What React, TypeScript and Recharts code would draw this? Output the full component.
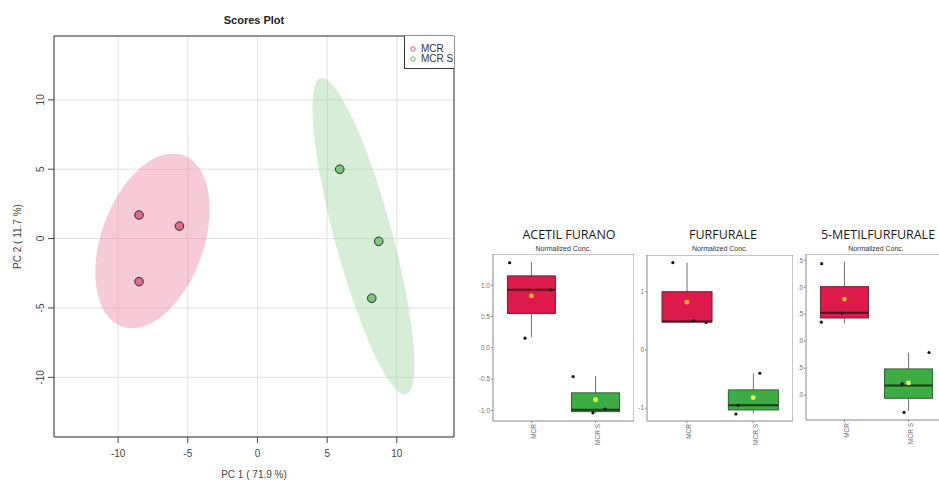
import React from 'react';
import {
  ScatterChart,
  ComposedChart,
  Scatter,
  Bar,
  XAxis,
  YAxis,
  CartesianGrid,
  ReferenceArea,
  Legend,
} from 'recharts';

// ---------- Scores plot data ----------
const groups = ['MCR', 'MCR S'];
const mcrPC1 = [-8.5, -5.6, -8.5];
const mcrPC2 = [1.7, 0.9, -3.1];
const mcrsPC1 = [5.9, 8.7, 8.2];
const mcrsPC2 = [5.0, -0.2, -4.3];
const pcTicks = [-10, -5, 0, 5, 10];
const pc1Domain = [-14.6, 14.1];
const pc2Domain = [-14.3, 14.6];

// ---------- Box plot data ----------
const boxCategories = [1, 2]; // MCR, MCR S
const boxTitles = ['ACETIL FURANO', 'FURFURALE', '5-METILFURFURALE'];

// ACETIL FURANO
const af_whiskerLo = [0.17, -1.04];
const af_whiskerHi = [1.37, -0.45];
const af_q1 = [0.55, -1.02];
const af_median = [0.93, -0.99];
const af_q3 = [1.15, -0.72];
const af_mean = [0.83, -0.83];
const af_ptsX = [0.66, 0.9, 1.3, 1.65, 1.96, 2.15];
const af_ptsY = [1.36, 0.155, 0.925, -0.46, -1.04, -0.98];
const af_ticks = [-1, -0.5, 0, 0.5, 1];
const af_tickLabels = ['-1.0', '-0.5', '0.0', '0.5', '1.0'];
const af_domain = [-1.17, 1.5];

// FURFURALE
const fu_whiskerLo = [0.47, -1.09];
const fu_whiskerHi = [1.5, -0.4];
const fu_q1 = [0.48, -1.03];
const fu_median = [0.49, -0.95];
const fu_q3 = [1.0, -0.686];
const fu_mean = [0.82, -0.817];
const fu_ptsX = [0.79, 1.1, 1.29, 2.1, 1.77, 1.74];
const fu_ptsY = [1.5, 0.5, 0.47, -0.4, -0.95, -1.1];
const fu_ticks = [-1, 0, 1];
const fu_tickLabels = ['-1', '0', '1'];
const fu_domain = [-1.22, 1.63];

// 5-METILFURFURALE (left part of its tick labels is hidden in the reference)
const mf_whiskerLo = [0.33, -1.29];
const mf_whiskerHi = [1.48, -0.21];
const mf_q1 = [0.43, -1.058];
const mf_median = [0.526, -0.823];
const mf_q3 = [1.01, -0.514];
const mf_mean = [0.78, -0.774];
const mf_ptsX = [0.645, 0.64, 0.96, 1.9, 1.93, 2.32];
const mf_ptsY = [1.436, 0.353, 0.52, -0.786, -1.32, -0.21];
const mf_ticks = [-1, -0.5, 0, 0.5, 1, 1.5];
const mf_tickLabels = ['.0', '.5', '.0', '.5', '.0', '.5'];
const mf_domain = [-1.46, 1.615];

// ---------- helpers ----------
const SANS = '"Liberation Sans", Arial, sans-serif';

function confidenceEllipse(xs: number[], ys: number[], steps = 120) {
  const n = xs.length;
  const mx = xs.reduce((a, b) => a + b, 0) / n;
  const my = ys.reduce((a, b) => a + b, 0) / n;
  let sxx = 0, syy = 0, sxy = 0;
  for (let i = 0; i < n; i++) {
    sxx += (xs[i] - mx) ** 2;
    syy += (ys[i] - my) ** 2;
    sxy += (xs[i] - mx) * (ys[i] - my);
  }
  sxx /= n - 1; syy /= n - 1; sxy /= n - 1;
  const k = Math.sqrt(5.991); // chi-square 95%, 2 df
  const l11 = Math.sqrt(sxx);
  const l21 = sxy / l11;
  const l22 = Math.sqrt(Math.max(syy - l21 * l21, 0));
  const out: { x: number; y: number }[] = [];
  for (let i = 0; i < steps; i++) {
    const t = (2 * Math.PI * i) / steps;
    out.push({ x: mx + k * l11 * Math.cos(t), y: my + k * (l21 * Math.cos(t) + l22 * Math.sin(t)) });
  }
  return out;
}

const zipPts = (xs: number[], ys: number[]) => xs.map((x, i) => ({ x, y: ys[i] }));

const mcrPoints = zipPts(mcrPC1, mcrPC2);
const mcrsPoints = zipPts(mcrsPC1, mcrsPC2);
const mcrEllipse = confidenceEllipse(mcrPC1, mcrPC2);
const mcrsEllipse = confidenceEllipse(mcrsPC1, mcrsPC2);

const ellipseLine = (fill: string, opacity: number) => (p: any) => {
  const pts = (p.points || []) as { x: number; y: number }[];
  if (!pts.length) return <g />;
  const d = pts.map((q, i) => `${i ? 'L' : 'M'}${q.x},${q.y}`).join(' ') + ' Z';
  return <path d={d} fill={fill} fillOpacity={opacity} stroke="none" />;
};

const dot = (fill: string, r: number, stroke?: string) => (p: any) => (
  <circle cx={p.cx} cy={p.cy} r={r} fill={fill} stroke={stroke || 'none'} strokeWidth={stroke ? 1 : 0} />
);

const RotatedYTick = (p: any) => {
  const { x, y, payload } = p;
  return (
    <text
      x={x}
      y={y}
      transform={`rotate(-90 ${x} ${y})`}
      textAnchor="middle"
      fontSize={10}
      fontFamily={SANS}
      fill="#444"
    >
      {payload.value}
    </text>
  );
};

const groupColors = [
  { fill: '#de1a4b', stroke: '#6d2232', median: '#4b0f1d', mean: '#ffb52a' },
  { fill: '#3cad43', stroke: '#2e6232', median: '#1b3a1d', mean: '#e9ff3a' },
];

const BoxShape = (p: any) => {
  const { x, y, width, height, payload, index, boxW } = p;
  if (x == null || y == null || !payload) return <g />;
  const [lo, hi] = payload.whisker as number[];
  const top = Math.min(y, y + height);
  const h = Math.abs(height);
  const py = (v: number) => top + (h * (hi - v)) / (hi - lo);
  const cx = x + width / 2;
  const bx = cx - boxW / 2;
  const c = groupColors[index % 2];
  return (
    <g>
      <line x1={cx} x2={cx} y1={top} y2={top + h} stroke="#707070" strokeWidth={1} />
      <rect
        x={bx}
        y={py(payload.q3)}
        width={boxW}
        height={py(payload.q1) - py(payload.q3)}
        fill={c.fill}
        stroke={c.stroke}
        strokeWidth={1}
      />
      <line x1={bx} x2={bx + boxW} y1={py(payload.median)} y2={py(payload.median)} stroke={c.median} strokeWidth={2} />
    </g>
  );
};

const MeanShape = (p: any) => {
  const c = groupColors[(p.index ?? 0) % 2];
  return <circle cx={p.cx} cy={p.cy} r={2.4} fill={c.mean} stroke="none" />;
};

type BoxPanelProps = {
  lo: number[]; hi: number[]; q1: number[]; med: number[]; q3: number[]; mean: number[];
  ptsX: number[]; ptsY: number[]; ticks: number[]; tickLabels: string[]; domain: number[];
  width: number; height: number; boxW: number;
};

const BoxPanel = ({ lo, hi, q1, med, q3, mean, ptsX, ptsY, ticks, tickLabels, domain, width, height, boxW }: BoxPanelProps) => {
  const data = boxCategories.map((x, i) => ({
    x,
    whisker: [lo[i], hi[i]],
    q1: q1[i],
    median: med[i],
    q3: q3[i],
  }));
  const means = boxCategories.map((x, i) => ({ x, y: mean[i] }));
  const pts = zipPts(ptsX, ptsY);
  const YTick = (p: any) => {
    const idx = ticks.indexOf(p.payload.value);
    return (
      <text x={p.x} y={p.y} dy={2.3} textAnchor="end" fontSize={6.5} fontFamily={SANS} fill="#707070">
        {idx >= 0 ? tickLabels[idx] : ''}
      </text>
    );
  };
  const XTick = (p: any) => (
    <text
      x={p.x}
      y={p.y}
      transform={`rotate(-90 ${p.x} ${p.y})`}
      dy={4.6}
      textAnchor="end"
      fontSize={6.5}
      fontFamily={SANS}
      fill="#707070"
    >
      {groups[p.payload.value - 1]}
    </text>
  );
  return (
    <ComposedChart width={width} height={height} data={data} margin={{ top: 0, right: 0, bottom: 0, left: 0 }}>
      <XAxis
        dataKey="x"
        type="number"
        domain={[0.4, 2.6]}
        ticks={boxCategories}
        height={30}
        tickSize={2}
        tickMargin={1}
        axisLine={false}
        tickLine={{ stroke: '#888' }}
        interval={0}
        tick={XTick}
        allowDataOverflow
      />
      <YAxis
        type="number"
        dataKey="y"
        domain={domain}
        ticks={ticks}
        width={23}
        tickSize={2}
        tickMargin={1}
        axisLine={false}
        tickLine={{ stroke: '#888' }}
        tick={YTick}
        interval={0}
        allowDataOverflow
      />
      <ReferenceArea x1={0.4} x2={2.6} y1={domain[0]} y2={domain[1]} fill="none" stroke="#8a8a8a" strokeWidth={1} ifOverflow="visible" />
      <Bar dataKey="whisker" shape={(p: any) => <BoxShape {...p} boxW={boxW} />} isAnimationActive={false} />
      <Scatter data={pts} dataKey="y" shape={dot('#111', 1.6)} isAnimationActive={false} />
      <Scatter data={means} dataKey="y" shape={MeanShape} isAnimationActive={false} />
    </ComposedChart>
  );
};

const LegendBox = () => (
  <div
    style={{
      width: 50,
      height: 33,
      boxSizing: 'border-box',
      borderLeft: '1px solid #333',
      borderBottom: '1px solid #333',
      background: '#fff',
      fontFamily: SANS,
      fontSize: 10,
      color: '#333',
      position: 'relative',
    }}
  >
    {groups.map((g, i) => (
      <div key={g} style={{ position: 'absolute', left: 4, top: 8 + i * 10, height: 10, lineHeight: '10px', whiteSpace: 'nowrap' }}>
        <svg width={10} height={10} style={{ position: 'absolute', left: 0, top: 0 }}>
          <circle cx={4} cy={5} r={2.2} fill="none" stroke={i === 0 ? '#d9577a' : '#62b86a'} strokeWidth={1} />
        </svg>
        <span style={{ position: 'absolute', left: 12, top: 0 }}>{g}</span>
      </div>
    ))}
  </div>
);

export default function App() {
  return (
    <div style={{ position: 'absolute', left: 0, top: 0, width: 939, height: 480, overflow: 'hidden', background: '#fff' }}>
      {/* Scores plot */}
      <div style={{ position: 'absolute', left: 0, top: 0 }}>
        <ScatterChart width={470} height={480} margin={{ top: 36, right: 16, bottom: 0, left: 0 }}>
          <CartesianGrid stroke="#e2e2e2" strokeWidth={1} />
          <XAxis
            type="number"
            dataKey="x"
            domain={pc1Domain}
            ticks={pcTicks}
            allowDataOverflow
            height={43}
            tickSize={6}
            tickMargin={7}
            axisLine={false}
            tickLine={{ stroke: '#444' }}
            tick={{ fontSize: 10, fill: '#444', fontFamily: SANS }}
            interval={0}
            label={{ value: 'PC 1 ( 71.9 %)', position: 'insideBottom', offset: 2, fontSize: 10, fill: '#444', fontFamily: SANS }}
          />
          <YAxis
            type="number"
            dataKey="y"
            domain={pc2Domain}
            ticks={pcTicks}
            allowDataOverflow
            width={54}
            tickSize={6}
            tickMargin={4}
            axisLine={false}
            tickLine={{ stroke: '#444' }}
            tick={(p: any) => <RotatedYTick {...p} />}
            interval={0}
            label={{ value: 'PC 2 ( 11.7 %)', angle: -90, position: 'center', dx: -10, fontSize: 10, fill: '#444', fontFamily: SANS }}
          />
          <Scatter name="MCR ellipse" data={mcrEllipse} line={ellipseLine('#ee8aa8', 0.45)} shape={() => <g />} legendType="none" isAnimationActive={false} />
          <Scatter name="MCR S ellipse" data={mcrsEllipse} line={ellipseLine('#97d497', 0.4)} shape={() => <g />} legendType="none" isAnimationActive={false} />
          <ReferenceArea
            x1={pc1Domain[0]}
            x2={pc1Domain[1]}
            y1={pc2Domain[0]}
            y2={pc2Domain[1]}
            fill="none"
            stroke="#333"
            strokeWidth={1}
            ifOverflow="visible"
          />
          <Scatter name="MCR" data={mcrPoints} shape={dot('#dc6a8b', 4.3, '#2a2a2a')} isAnimationActive={false} />
          <Scatter name="MCR S" data={mcrsPoints} shape={dot('#7fc483', 4.3, '#2a2a2a')} isAnimationActive={false} />
          <Legend
            layout="horizontal"
            verticalAlign="middle"
            align="center"
            content={() => <LegendBox />}
            wrapperStyle={{ position: 'absolute', left: 404, top: 36, width: 50, height: 33 }}
          />
        </ScatterChart>
      </div>

      {/* Box plots */}
      <div style={{ position: 'absolute', left: 470, top: 254 }}>
        <BoxPanel
          lo={af_whiskerLo} hi={af_whiskerHi} q1={af_q1} med={af_median} q3={af_q3} mean={af_mean}
          ptsX={af_ptsX} ptsY={af_ptsY} ticks={af_ticks} tickLabels={af_tickLabels} domain={af_domain}
          width={164} height={197} boxW={48}
        />
      </div>
      <div style={{ position: 'absolute', left: 624, top: 255 }}>
        <BoxPanel
          lo={fu_whiskerLo} hi={fu_whiskerHi} q1={fu_q1} med={fu_median} q3={fu_q3} mean={fu_mean}
          ptsX={fu_ptsX} ptsY={fu_ptsY} ticks={fu_ticks} tickLabels={fu_tickLabels} domain={fu_domain}
          width={169} height={196} boxW={50}
        />
      </div>
      <div style={{ position: 'absolute', left: 783, top: 254 }}>
        <BoxPanel
          lo={mf_whiskerLo} hi={mf_whiskerHi} q1={mf_q1} med={mf_median} q3={mf_q3} mean={mf_mean}
          ptsX={mf_ptsX} ptsY={mf_ptsY} ticks={mf_ticks} tickLabels={mf_tickLabels} domain={mf_domain}
          width={164} height={196} boxW={48}
        />
      </div>

      {/* Titles */}
      <svg width={939} height={480} style={{ position: 'absolute', left: 0, top: 0, pointerEvents: 'none' }}>
        <text x={254} y={24} textAnchor="middle" fontSize={11} fontWeight="bold" fontFamily={SANS} fill="#222">
          Scores Plot
        </text>
        {[569, 723, 878].map((cx, i) => (
          <text key={boxTitles[i]} x={cx} y={238.5} textAnchor="middle" fontSize={12.5} fontFamily='"Open Sans", sans-serif' fill="#1a1a1a">
            {boxTitles[i]}
          </text>
        ))}
        {[563.3, 719.7, 876].map((cx, i) => (
          <text key={i} x={cx} y={250.5} textAnchor="middle" fontSize={7} fontFamily={SANS} fill="#333">
            Normalized Conc.
          </text>
        ))}
      </svg>
    </div>
  );
}
